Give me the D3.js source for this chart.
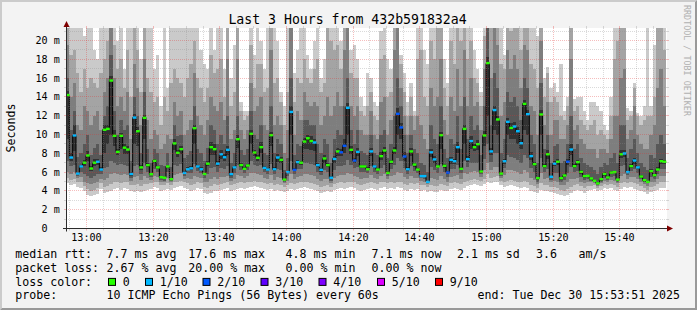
<!DOCTYPE html>
<html>
<head>
<meta charset="utf-8">
<script src="https://cdn.jsdelivr.net/npm/d3@7"></script>
<style>
  body { margin: 0; background: #fff; }
  svg { display: block; }
  text { font-family: "DejaVu Sans Mono", monospace; }
</style>
</head>
<body>
<svg id="chart" width="697" height="310"></svg>
<script>
// --- data ----------------------------------------------------------------
// median rtt per 1-minute step (ms), 12:53:51 .. 15:53:51
const median = [
  14.2,7.55,9.9,5.85,6.6,7.0,7.77,6.38,7.0,7.1,6.27,10.5,10.6,15.74,9.86,8.15,9.86,8.6,8.4,5.8,11.8,10.35,6.5,11.77,6.74,5.78,7.2,6.5,5.46,5.4,6.6,5.25,9.05,8.05,8.44,5.92,
  6.3,6.4,10.67,6.6,6.3,5.8,6.9,8.65,8.44,6.9,7.9,7.58,8.37,5.78,6.5,9.5,6.74,6.35,6.7,10.07,8.08,7.52,8.65,6.45,6.27,9.93,6.3,7.55,7.3,5.2,6.0,12.4,6.24,7.06,7.0,9.25,
  9.6,9.3,9.15,6.74,6.24,7.45,6.74,5.4,7.4,8.2,8.1,8.8,12.84,8.37,7.23,8.15,6.6,6.6,6.3,8.2,6.6,6.27,7.7,8.3,5.92,7.1,8.3,12.2,10.75,7.66,6.3,8.2,6.8,6.27,5.57,5.57,
  4.96,8.1,7.35,6.6,9.93,6.67,5.95,7.3,7.16,8.65,6.35,10.6,7.38,9.3,8.65,8.97,6.06,9.9,17.6,8.2,12.6,11.6,5.85,7.16,11.35,10.7,10.85,10.35,9.07,13.26,12.16,7.7,6.84,5.35,12.13,6.63,
  7.9,5.5,6.9,7.1,5.35,5.64,7.1,8.4,6.63,7.06,6.03,5.57,5.6,5.32,5.07,4.8,5.25,5.8,5.43,5.95,6.0,5.2,7.9,7.98,6.0,6.63,7.23,6.5,5.53,5.14,4.96,6.1,5.67,6.27,7.16,7.1
];
// lost pings out of 10 per step
const lossCount = [
  0,1,1,1,1,0,0,0,0,1,1,0,0,0,0,0,0,0,0,1,1,0,0,0,0,0,0,0,0,0,0,0,0,0,0,1,
  1,1,0,1,1,0,0,0,0,1,1,1,1,1,1,0,0,0,0,0,0,0,0,1,1,0,1,1,0,0,1,1,2,1,0,0,
  0,0,1,1,1,0,0,1,1,0,2,2,1,0,2,1,0,0,0,1,1,0,0,0,0,0,0,2,2,2,1,0,0,0,1,1,
  1,1,1,0,0,0,2,1,1,1,0,0,1,1,0,0,0,0,0,1,1,0,0,1,1,0,1,1,1,0,1,1,0,0,0,0,
  0,1,1,0,0,0,2,1,0,0,0,0,0,0,0,0,0,0,0,0,0,0,0,1,1,0,1,1,0,0,0,0,0,0,0,0
];
// sorted pings per step (ms), ping1 = fastest .. ping10 = slowest
const ping1 = [
  4.8,4.6,4.7,4.4,4.3,4.0,3.6,3.5,3.6,3.7,4.2,3.8,3.9,4.0,4.2,4.3,4.1,4.3,4.2,4.0,3.9,4.0,3.9,4.0,4.1,4.2,4.4,4.3,4.0,4.1,4.2,4.1,4.3,4.4,4.5,4.3,
  4.2,4.0,4.1,4.3,4.2,3.8,3.7,3.8,4.0,4.0,4.1,4.2,4.3,4.0,4.1,4.2,4.3,4.2,4.3,4.4,4.5,4.4,4.3,4.2,4.1,4.2,4.0,4.1,4.0,3.9,4.0,4.2,4.1,4.2,4.3,4.4,
  4.3,4.2,4.1,4.0,3.8,3.9,4.0,3.9,4.1,4.2,4.3,4.2,4.3,4.4,4.3,4.1,4.0,4.1,4.2,4.3,4.2,4.1,4.3,4.4,4.2,4.3,4.2,4.4,4.3,4.1,4.0,4.2,4.1,4.2,4.0,4.1,
  3.9,4.0,3.9,3.9,4.1,4.0,4.0,4.2,4.3,4.2,4.1,4.3,4.5,4.6,4.7,4.6,4.5,4.7,5.0,4.8,4.9,5.0,4.6,4.4,4.5,4.6,4.5,4.4,4.3,4.4,4.3,4.0,3.9,3.8,4.1,4.0,
  4.0,3.9,3.8,3.7,3.6,3.5,3.6,3.8,4.0,4.1,4.0,3.8,4.0,4.1,4.2,4.0,4.1,4.3,4.2,4.3,4.1,4.0,4.2,4.4,4.3,4.4,4.2,4.1,4.0,3.9,3.7,3.9,4.0,4.1,4.3,4.3
];
const ping2 = [
  5.4,5.2,5.3,5.0,4.9,4.5,4.2,4.0,4.1,4.3,4.8,4.4,4.5,4.7,4.9,5.0,4.8,5.0,4.9,4.6,4.6,4.7,4.5,4.7,4.7,4.8,5.0,4.9,4.6,4.6,4.8,4.6,4.9,5.0,5.1,4.9,
  4.8,4.6,4.7,4.9,4.8,4.4,4.3,4.5,4.7,4.6,4.7,4.8,4.9,4.6,4.7,4.8,4.9,4.8,4.9,5.0,5.1,5.0,4.9,4.8,4.7,4.8,4.6,4.7,4.6,4.4,4.6,4.8,4.7,4.8,4.9,5.0,
  4.9,4.8,4.7,4.6,4.4,4.5,4.6,4.4,4.7,4.8,4.9,4.8,4.9,5.0,4.9,4.7,4.6,4.7,4.8,4.9,4.8,4.7,4.9,5.0,4.8,4.9,4.8,5.0,4.9,4.7,4.6,4.8,4.7,4.8,4.6,4.6,
  4.4,4.6,4.5,4.5,4.7,4.6,4.5,4.8,4.9,4.8,4.7,4.9,5.1,5.2,5.3,5.2,5.1,5.3,5.8,5.4,5.5,5.6,5.1,5.0,5.1,5.2,5.1,5.0,4.9,5.1,5.0,4.6,4.5,4.3,4.8,4.6,
  4.6,4.4,4.4,4.3,4.1,4.0,4.2,4.4,4.6,4.7,4.5,4.3,4.5,4.5,4.6,4.3,4.5,4.7,4.6,4.7,4.6,4.4,4.8,5.0,4.8,4.9,4.8,4.7,4.5,4.3,4.1,4.4,4.5,4.7,4.9,4.9
];
const ping3 = [
  6.0,5.8,6.0,5.4,5.5,5.0,4.8,4.7,4.8,5.0,5.3,5.2,5.4,5.8,5.9,5.8,5.7,5.8,5.7,5.1,5.5,5.6,5.2,5.6,5.4,5.2,5.6,5.5,5.0,4.9,5.4,4.9,5.7,5.8,5.9,5.3,
  5.4,5.3,5.6,5.5,5.4,4.9,5.0,5.3,5.5,5.3,5.5,5.5,5.6,5.1,5.3,5.7,5.6,5.4,5.6,5.9,5.9,5.8,5.7,5.4,5.3,5.7,5.2,5.5,5.4,4.8,5.1,5.8,5.3,5.5,5.6,5.8,
  5.8,5.7,5.6,5.3,5.1,5.3,5.3,4.8,5.4,5.6,5.7,5.7,5.9,5.8,5.6,5.5,5.3,5.4,5.4,5.7,5.4,5.3,5.6,5.8,5.3,5.6,5.7,6.0,5.9,5.5,5.3,5.6,5.4,5.4,5.1,5.0,
  4.7,5.4,5.3,5.2,5.6,5.3,5.0,5.5,5.6,5.7,5.3,5.9,5.8,6.0,6.1,6.0,5.5,6.2,7.0,6.2,6.5,6.5,5.4,5.7,6.2,6.2,6.1,6.0,5.8,6.2,6.0,5.4,5.2,4.7,5.9,5.3,
  5.4,4.9,5.1,5.0,4.6,4.6,5.0,5.3,5.3,5.4,5.0,4.8,4.9,4.9,4.8,4.5,4.8,5.1,5.0,5.2,5.1,4.8,5.6,5.8,5.3,5.5,5.5,5.3,5.0,4.7,4.5,5.0,5.0,5.3,5.6,5.6
];
const ping4 = [
  7.2,6.6,6.8,5.6,6.0,5.8,5.6,5.4,5.6,5.8,5.8,6.4,6.5,7.2,7.0,6.8,6.9,6.8,6.6,5.4,6.7,6.8,5.8,7.0,6.0,5.5,6.3,6.0,5.2,5.1,6.0,5.1,6.8,6.7,6.9,5.6,
  5.9,5.9,6.9,6.1,5.9,5.4,5.8,6.4,6.5,6.0,6.4,6.3,6.6,5.4,5.9,6.8,6.2,5.9,6.2,7.2,6.8,6.6,6.8,6.0,5.8,6.9,5.8,6.3,6.2,5.0,5.6,7.2,5.8,6.3,6.3,7.0,
  7.0,6.9,6.8,6.0,5.7,6.2,6.0,5.1,6.2,6.6,6.7,6.8,7.3,6.8,6.4,6.5,6.0,6.0,5.9,6.7,6.0,5.8,6.4,6.8,5.6,6.3,6.8,7.5,7.2,6.4,5.8,6.6,6.1,5.9,5.4,5.3,
  4.9,6.5,6.2,5.9,6.9,6.0,5.5,6.3,6.3,6.8,5.9,7.2,6.5,7.0,7.0,7.0,5.8,7.4,9.0,7.1,8.0,8.0,5.6,6.4,7.8,7.6,7.5,7.3,7.0,7.8,7.5,6.4,6.0,5.0,7.5,6.0,
  6.3,5.2,5.9,5.9,5.0,5.2,5.9,6.5,6.0,6.1,5.5,5.2,5.3,5.1,4.9,4.6,5.0,5.4,5.2,5.5,5.6,5.0,6.6,6.8,5.7,6.1,6.3,5.9,5.3,4.9,4.8,5.5,5.3,5.8,6.3,6.3
];
const ping5 = [
  9.5,7.2,8.2,5.8,6.4,6.7,7.2,6.1,6.6,6.8,6.1,8.0,9.0,10.0,8.8,7.8,8.5,7.9,7.9,5.6,9.0,8.8,6.2,9.5,6.5,5.7,7.0,6.3,5.4,5.3,6.4,5.2,8.3,7.6,7.9,5.8,
  6.2,6.2,9.0,6.4,6.2,5.7,6.6,7.8,7.8,6.6,7.4,7.2,7.8,5.6,6.3,8.6,6.5,6.2,6.5,9.0,7.7,7.2,8.0,6.3,6.1,8.8,6.1,7.1,7.0,5.1,5.9,10.0,6.1,6.9,6.8,8.5,
  8.5,8.4,8.2,6.5,6.0,7.0,6.5,5.3,7.0,7.7,7.7,8.0,10.0,7.9,7.0,7.7,6.4,6.4,6.2,7.7,6.4,6.1,7.3,7.9,5.8,6.9,7.9,10.0,9.5,7.2,6.1,7.7,6.5,6.1,5.5,5.5,
  4.9,7.6,7.0,6.4,8.5,6.4,5.8,6.9,6.9,8.0,6.2,9.0,7.1,8.5,8.2,8.4,5.9,8.8,12.0,7.8,10.5,10.0,5.8,6.9,10.0,9.5,9.5,9.0,8.5,10.5,10.0,7.3,6.6,5.2,10.0,6.4,
  7.4,5.4,6.6,6.8,5.2,5.5,6.8,7.8,6.4,6.8,5.8,5.4,5.5,5.2,5.0,4.7,5.1,5.6,5.3,5.8,5.9,5.1,7.5,7.6,5.9,6.4,6.9,6.3,5.4,5.0,4.9,5.9,5.5,6.1,6.9,6.9
];
const ping6 = [
  14.6,8.0,11.0,6.0,6.8,7.3,8.2,6.6,7.4,7.4,6.5,11.0,11.0,16.2,10.5,8.5,10.2,9.0,8.8,6.0,12.2,10.8,6.8,12.1,7.0,5.9,7.4,6.7,5.6,5.5,6.8,5.4,9.5,8.4,8.8,6.1,
  6.5,6.6,11.0,6.8,6.5,5.9,7.2,9.2,9.0,7.2,8.3,7.9,8.8,5.9,6.7,9.9,7.0,6.5,6.9,10.5,8.4,7.8,9.2,6.6,6.4,10.3,6.5,7.9,7.6,5.3,6.1,13.0,6.4,7.3,7.2,9.6,
  10.0,9.8,9.5,7.0,6.4,7.8,7.0,5.6,7.7,8.6,8.5,9.5,13.3,8.8,7.5,8.6,6.8,6.8,6.5,8.6,6.8,6.4,8.1,8.7,6.1,7.3,8.7,12.8,11.2,8.1,6.5,8.6,7.0,6.4,5.7,5.7,
  5.0,8.5,7.7,6.8,10.3,6.9,6.1,7.6,7.4,9.2,6.5,11.0,7.7,9.8,9.0,9.4,6.2,10.4,18.2,8.6,13.0,12.0,6.0,7.4,11.8,11.2,11.3,10.8,9.5,13.7,12.6,8.1,7.1,5.5,12.6,6.9,
  8.3,5.6,7.2,7.4,5.5,5.8,7.4,9.0,6.9,7.3,6.2,5.7,5.7,5.4,5.1,4.9,5.4,6.0,5.6,6.1,6.1,5.3,8.3,8.4,6.1,6.9,7.5,6.7,5.7,5.3,5.1,6.3,5.8,6.5,7.4,7.3
];
const ping7 = [
  16.0,10.5,12.5,7.6,8.0,9.0,10.0,7.8,8.6,9.0,7.8,12.0,13.0,18.5,12.5,10.0,11.5,10.5,11.0,7.2,14.0,12.0,8.0,14.5,8.5,7.0,8.5,8.0,6.8,6.6,8.0,6.5,11.0,9.8,10.0,7.5,
  7.8,8.2,13.0,8.5,8.0,7.2,8.6,11.0,10.5,9.0,10.0,9.0,12.0,7.0,8.0,12.0,8.3,7.8,8.5,12.5,10.0,9.5,11.0,8.0,7.8,13.0,8.0,9.5,9.0,6.2,7.5,16.0,7.8,9.0,8.8,11.5,
  11.5,11.0,11.0,9.0,8.0,9.5,9.0,7.0,9.5,10.5,10.0,13.0,16.0,10.5,9.0,10.5,8.2,8.0,7.8,10.0,8.0,7.8,10.0,10.5,7.5,9.0,12.0,16.0,13.0,10.0,8.0,10.0,8.5,8.0,7.0,6.8,
  6.0,11.0,9.5,9.0,13.0,8.5,7.5,9.5,9.0,12.0,8.5,14.0,9.5,12.0,10.5,11.0,7.8,13.0,22,11.0,16.5,15.0,8.0,9.5,14.5,13.5,14.0,13.0,11.5,16.0,15.0,10.0,9.0,7.0,15.5,8.5,
  10.0,7.0,8.8,9.0,7.0,7.2,9.0,12.0,8.5,9.0,7.5,7.0,6.8,6.5,6.2,5.8,6.5,7.0,6.8,7.5,8.0,7.0,11.0,11.0,7.5,8.5,9.5,8.0,7.0,6.5,6.2,7.8,7.5,9.0,10.0,9.0
];
const ping8 = [
  19.5,14.0,15.5,11.0,10.5,13.0,12.5,11.0,12.0,12.5,10.5,14.5,16.0,22,16.0,13.0,14.0,12.5,14.5,9.5,17.5,15.0,11.0,18.0,11.5,9.5,10.5,10.0,8.5,9.0,10.0,9.5,13.5,12.0,12.5,10.0,
  10.5,11.5,16.5,12.0,11.0,10.0,11.5,14.0,13.0,12.5,13.5,11.5,18.0,9.5,10.5,18.0,10.5,9.5,10.5,15.5,12.5,13.0,14.0,11.0,10.5,19.0,11.0,12.0,11.0,8.0,10.5,22,10.0,12.5,11.5,14.5,
  13.5,13.0,13.5,13.0,11.0,12.0,14.0,12.0,13.0,14.5,13.0,19.0,22,13.0,12.0,13.0,10.5,10.0,10.0,12.5,10.0,9.5,13.5,14.0,10.0,11.5,19.0,22,15.0,12.0,10.0,12.0,10.5,12.0,11.0,9.5,
  8.5,15.0,13.0,14.0,18.0,11.5,10.0,14.0,12.5,17.0,13.0,19.0,13.0,16.0,13.0,13.5,10.5,17.0,22,16.0,22,19.5,12.0,13.5,19.0,17.0,18.5,17.0,15.0,19.5,19.0,13.0,12.5,10.0,20.0,11.0,
  13.5,10.0,11.5,11.5,9.5,9.5,11.0,18.0,10.5,11.0,9.5,9.0,8.5,8.5,8.5,7.5,8.5,8.5,8.0,9.5,12.0,12.0,16.0,17.0,9.5,10.5,13.0,10.0,9.0,8.5,8.5,10.0,11.0,15.0,17.0,13.0
];
const ping9 = [
  22,18.5,19.0,16.5,14.5,17.0,15.0,16.0,15.5,15.0,16.5,18.0,20.0,22,19.5,17.0,18.0,15.0,19.0,14.0,22,19.0,14.5,22,16.0,14.5,13.5,14.0,11.0,14.0,12.5,15.5,17.0,16.0,15.5,14.0,
  16.0,17.5,20.0,16.0,15.0,13.5,15.0,18.5,16.5,17.0,18.0,14.0,22,13.0,14.5,22,12.5,11.5,12.0,19.5,15.0,17.5,17.5,14.5,15.0,22,15.5,16.0,13.5,11.0,14.5,22,13.5,16.0,15.5,18.0,
  16.0,15.5,17.0,18.0,14.5,15.5,22,20.0,19.0,19.5,17.0,22,22,16.5,16.0,16.0,12.5,12.0,13.0,14.5,12.0,11.5,18.0,18.5,14.0,14.5,22,22,17.5,14.5,12.0,14.0,12.0,18.0,19.0,14.0,
  13.0,20.0,18.0,22,22,15.0,13.0,20.0,17.5,22,20.0,22,18.0,20.0,16.0,15.5,13.0,20.5,22,22,22,22,17.5,17.0,22,21.0,22,22,19.0,22,22,17.5,17.0,15.0,22,14.0,
  16.5,13.5,14.0,13.5,12.0,11.5,13.0,22,12.5,13.0,11.5,11.0,10.5,11.0,11.5,10.0,10.5,10.0,9.5,12.0,18.0,20.0,22,22,11.5,12.0,15.0,12.0,11.0,11.5,12.0,12.0,14.0,22,22,19.0
];
const ping10 = [
  22,22,22,22,22,20.5,22,22,19.0,18.0,22,22,22,22,22,20.0,22,17.0,22,22,22,22,18.0,22,22,22,17.0,18.5,13.0,22,15.0,22,22,22,22,22,
  22,22,22,22,19.0,17.5,17.0,22,19.0,22,22,17.0,22,16.0,19.5,22,13.5,12.5,12.5,22,18.5,22,20.0,17.0,22,22,22,20.0,14.5,13.0,22,22,16.5,19.0,22,22,
  18.5,17.0,20.0,22,16.0,18.0,22,22,22,22,20.0,22,22,19.0,19.5,18.0,14.0,13.0,16.5,16.0,13.5,13.0,21.0,21.5,18.0,17.0,22,22,18.5,16.5,13.5,15.5,12.5,22,22,19.0,
  17.5,22,22,22,22,18.0,15.5,22,22,22,22,22,22,22,19.0,17.0,14.5,22,22,22,22,22,22,18.5,22,22,22,22,22,22,22,22,22,20.5,22,16.0,
  17.2,15.0,15.5,14.5,17.5,12.5,14.0,22,13.8,14.0,14.0,12.5,11.5,13.5,13.5,13.0,12.5,11.0,10.5,14.0,22,22,22,22,12.8,12.5,15.5,12.3,12.0,13.0,22,13.0,19.5,22,22,22
];

const yTickValues = [0, 2, 4, 6, 8, 10, 12, 14, 16, 18, 20];
const yTickLabels = ["0", "2 m", "4 m", "6 m", "8 m", "10 m", "12 m", "14 m", "16 m", "18 m", "20 m"];
const xTickLabels = ["13:00", "13:20", "13:40", "14:00", "14:20", "14:40", "15:00", "15:20", "15:40"];

const rttNames = ["avg", "max", "min", "now", "sd"];
const rttValues = [7.7, 17.6, 4.8, 7.1, 2.1];
const rttAmS = 3.6;
const lossNames = ["avg", "max", "min", "now"];
const lossValues = [2.67, 20.00, 0.00, 0.00];
const lossLabels = ["0", "1/10", "2/10", "3/10", "4/10", "5/10", "9/10"];
const lossLevels = [0, 1, 2, 3, 4, 5, 9];
const lossColors = ["#26ff00", "#00b8ff", "#0059ff", "#5e00ff", "#7e00ff", "#dd00ff", "#ff0000"];
const smokeGreys = ["#cacaca", "#a4a4a4", "#7e7e7e", "#585858", "#323232"];

const pings = [ping1, ping2, ping3, ping4, ping5, ping6, ping7, ping8, ping9, ping10];
[median, lossCount, ...pings].forEach((a, i) => {
  if (a.length !== 180) throw new Error("array " + i + " has " + a.length + " values");
});

// --- layout ----------------------------------------------------------------
const W = 697, H = 310;
const pLeft = 66, pRight = 666, pTop = 28, pBase = 228.5;
const startTime = new Date(2025, 11, 30, 12, 53, 51);
const endTime = new Date(2025, 11, 30, 15, 53, 51);

const x = d3.scaleTime().domain([startTime, endTime]).range([pLeft, pRight]);
const y = d3.scaleLinear().domain([0, (pBase - pTop) / 9.4]).range([pBase, pTop]);

const svg = d3.select("#chart");

// background with rrdtool shading
svg.append("rect").attr("width", W).attr("height", H).attr("fill", "#f3f3f3");
svg.append("polygon")
  .attr("points", [[0, 0], [W, 0], [W - 2, 2], [2, 2], [2, H - 2], [0, H]].join(" "))
  .attr("fill", "#cbcbcb");
svg.append("polygon")
  .attr("points", [[W, 0], [W, H], [0, H], [2, H - 2], [W - 2, H - 2], [W - 2, 2]].join(" "))
  .attr("fill", "#999999");

// canvas
svg.append("rect")
  .attr("x", pLeft).attr("y", pTop)
  .attr("width", pRight - pLeft + 1).attr("height", pBase - pTop)
  .attr("fill", "#ffffff");

svg.append("clipPath").attr("id", "plotclip")
  .append("rect")
  .attr("x", pLeft).attr("y", pTop)
  .attr("width", pRight - pLeft + 1).attr("height", pBase - pTop);

const steps = median.map((m, i) => ({
  t0: d3.timeSecond.offset(startTime, i * 60),
  t1: d3.timeSecond.offset(startTime, (i + 1) * 60),
  med: m,
  loss: lossCount[i],
  p: pings.map(a => a[i])
}));

const plot = svg.append("g").attr("clip-path", "url(#plotclip)");

// smoke: band k spans ping k .. ping (9-k)
smokeGreys.forEach((col, k) => {
  const pts = steps.flatMap(s => [
    { t: s.t0, lo: s.p[k], hi: s.p[9 - k] },
    { t: s.t1, lo: s.p[k], hi: s.p[9 - k] }
  ]);
  plot.append("path")
    .attr("d", d3.area().x(d => x(d.t)).y0(d => y(d.lo)).y1(d => y(d.hi))(pts))
    .attr("fill", col)
    .attr("shape-rendering", "crispEdges");
});

// grid
const gMinor = "rgba(140,140,140,0.32)";
const gMajor = "rgba(225,50,50,0.32)";
const grid = svg.append("g");
const minorTimes = d3.timeMinute.every(5).range(startTime, endTime)
  .filter(t => t.getMinutes() % 20 !== 0);
const majorTimes = d3.timeMinute.every(20).range(startTime, endTime);
const minorVals = d3.range(1, 22, 1).filter(v => v % 2 !== 0 && y(v) >= pTop);

const vLine = (t, col) => {
  const px = Math.floor(x(t)) + 0.5;
  grid.append("line").attr("x1", px).attr("x2", px).attr("y1", pTop).attr("y2", pBase)
    .attr("stroke", col).attr("stroke-dasharray", "1,1");
  grid.append("line").attr("x1", px).attr("x2", px).attr("y1", pBase).attr("y2", pBase + 2)
    .attr("stroke", col);
  grid.append("line").attr("x1", px).attr("x2", px).attr("y1", pTop - 2).attr("y2", pTop)
    .attr("stroke", col);
};
const hLine = (v, col) => {
  const py = Math.floor(y(v)) + 0.5;
  grid.append("line").attr("x1", pLeft).attr("x2", pRight + 1).attr("y1", py).attr("y2", py)
    .attr("stroke", col).attr("stroke-dasharray", "1,1");
  grid.append("line").attr("x1", pLeft - 2).attr("x2", pLeft).attr("y1", py).attr("y2", py)
    .attr("stroke", col);
  grid.append("line").attr("x1", pRight + 1).attr("x2", pRight + 3).attr("y1", py).attr("y2", py)
    .attr("stroke", col);
};
minorTimes.forEach(t => vLine(t, gMinor));
minorVals.forEach(v => hLine(v, gMinor));
majorTimes.forEach(t => vLine(t, gMajor));
yTickValues.filter(v => v > 0).forEach(v => hLine(v, gMajor));

// median line
const medPts = steps.flatMap(s => [{ t: s.t0, v: s.med }, { t: s.t1, v: s.med }]);
plot.append("path")
  .attr("d", d3.line().x(d => x(d.t)).y(d => Math.floor(y(d.v)) + 0.5)(medPts))
  .attr("fill", "none")
  .attr("stroke", "#000")
  .attr("stroke-width", 1);

// loss coloured median markers
const lossColor = n => {
  let c = lossColors[0];
  lossLevels.forEach((lv, i) => { if (n >= lv) c = lossColors[i]; });
  return c;
};
plot.selectAll("rect.med")
  .data(steps)
  .join("rect")
  .attr("class", "med")
  .attr("x", d => x(d.t0))
  .attr("width", d => x(d.t1) - x(d.t0) + 0.4)
  .attr("y", d => y(d.med) - 1.2)
  .attr("height", 2.4)
  .attr("fill", d => lossColor(d.loss));

// axes
const axisCol = "#2c2c2c";
svg.append("line").attr("x1", pLeft - 3).attr("x2", pRight + 2)
  .attr("y1", pBase).attr("y2", pBase).attr("stroke", axisCol);
svg.append("line").attr("x1", pLeft + 0.5).attr("x2", pLeft + 0.5)
  .attr("y1", pBase + 3).attr("y2", pTop - 4).attr("stroke", axisCol);
svg.append("polygon")
  .attr("points", [[pRight + 1, pBase - 3], [pRight + 7, pBase], [pRight + 1, pBase + 3]].join(" "))
  .attr("fill", "#7f0000");
svg.append("polygon")
  .attr("points", [[pLeft - 2.5, pTop - 1], [pLeft + 0.5, pTop - 7], [pLeft + 3.5, pTop - 1]].join(" "))
  .attr("fill", "#7f0000");

// tick labels
const axisFont = "10.1px";
svg.append("g").selectAll("text")
  .data(yTickValues)
  .join("text")
  .attr("x", (d, i) => yTickLabels[i].length === 1 ? 47.6 : 59.8)
  .attr("y", d => y(d) + 3.4)
  .attr("text-anchor", "end")
  .style("font-size", axisFont)
  .text((d, i) => yTickLabels[i]);

svg.append("g").selectAll("text")
  .data(majorTimes)
  .join("text")
  .attr("x", d => Math.floor(x(d)) + 0.5)
  .attr("y", 240.7)
  .attr("text-anchor", "middle")
  .style("font-size", axisFont)
  .text((d, i) => xTickLabels[i]);

// title, unit, watermark
svg.append("text")
  .attr("x", 347.5).attr("y", 24)
  .attr("text-anchor", "middle")
  .style("font-size", "13.2px")
  .text("Last 3 Hours from 432b591832a4");

svg.append("text")
  .attr("transform", "translate(15.3,128) rotate(-90)")
  .attr("text-anchor", "middle")
  .style("font-size", "11.6px")
  .text("Seconds");

svg.append("text")
  .attr("transform", "translate(684.3,5) rotate(90)")
  .style("font-size", "8.4px")
  .attr("fill", "#b0b0b0")
  .text("RRDTOOL / TOBI OETIKER");

// legend
const legFont = "11.6px";
const cols = [106.6, 188.3, 285.6, 371.6, 457, 536, 578.6];
const rows = [258.2, 271.9, 285.6, 299.3];
const leg = svg.append("g").style("font-size", legFont);
const put = (str, lx, ly) => leg.append("text").attr("x", lx).attr("y", ly)
  .attr("xml:space", "preserve").text(str);

put("median rtt:", 15.3, rows[0]);
rttValues.forEach((v, i) => put(v.toFixed(1) + " ms " + rttNames[i], cols[i], rows[0]));
put(rttAmS.toFixed(1), cols[5], rows[0]);
put("am/s", cols[6], rows[0]);

put("packet loss:", 15.3, rows[1]);
lossValues.forEach((v, i) => put(v.toFixed(2) + " % " + lossNames[i], cols[i], rows[1]));

put("loss color:", 15.3, rows[2]);
const boxX = [108.5, 145.5, 203, 261, 319, 377.5, 435.5];
lossLabels.forEach((lab, i) => {
  leg.append("rect")
    .attr("x", boxX[i]).attr("y", rows[2] - 7.2)
    .attr("width", 7).attr("height", 7)
    .attr("fill", lossColors[i])
    .attr("stroke", "#000").attr("stroke-width", 1);
  put(lab, boxX[i] + 14.2, rows[2]);
});

put("probe:", 15.3, rows[3]);
put("10 ICMP Echo Pings (56 Bytes) every 60s", cols[0], rows[3]);
put("end: Tue Dec 30 15:53:51 2025", 477.6, rows[3]);
</script>
</body>
</html>
